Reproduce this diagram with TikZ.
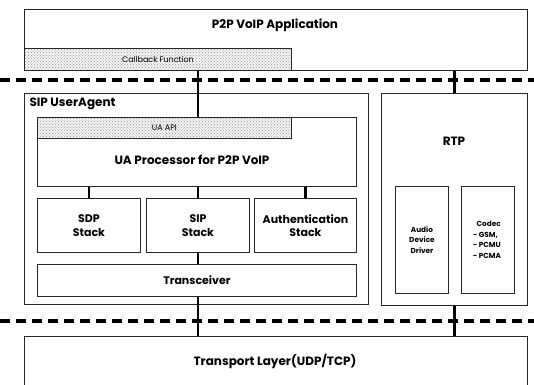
\documentclass[tikz,border=0pt]{standalone}
\usepackage{fontspec}
\setmainfont{Poppins}
\usetikzlibrary{patterns}
\begin{document}
\begin{tikzpicture}[x=1pt,y=-1pt,
  box/.style={draw=black!85, line width=0.9pt, fill=white, inner sep=0pt, anchor=north west},
  dotted box/.style={box, preaction={fill=black!5}, pattern=crosshatch dots, pattern color=black!40},
  link/.style={line width=2.8pt, black},
  layer line/.style={line width=3.6pt, dash pattern=on 10pt off 6pt, black},
  big/.style={font=\fontsize{12}{14}\selectfont\bfseries},
  mid/.style={font=\fontsize{11}{13.5}\selectfont\bfseries, align=center},
  tiny/.style={font=\fontsize{8}{9}\selectfont},
  small/.style={font=\fontsize{7.3}{10.5}\selectfont\bfseries, align=center}]
\useasboundingbox (0,0) rectangle (534,384);

% application layer
\node[box, minimum width=503pt, minimum height=61pt] (app) at (24,9) {};
\node[big] (apptext) at (275,25) {P2P VoIP Application};
\node[dotted box, minimum width=267pt, minimum height=22pt] (callback) at (24,48) {};
\node[tiny] (cbtext) at (callback.center) {Callback Function};

% SIP user agent
\node[box, minimum width=344pt, minimum height=211pt] (ua) at (24,93) {};
\node[big, anchor=west] (uatext) at (26,104) {SIP UserAgent};
\node[box, minimum width=319pt, minimum height=69pt] (uaproc) at (37,117) {};
\node[dotted box, minimum width=254pt, minimum height=21pt] (uaapi) at (37,117) {};
\node[tiny] (apitext) at (uaapi.center) {UA API};
\node[big] (proctext) at (192,160) {UA Processor for P2P VoIP};

\node[box, minimum width=103pt, minimum height=54pt, mid] (sdp) at (37,198) {SDP\\Stack};
\node[box, minimum width=103pt, minimum height=54pt, mid] (sip) at (146,198) {SIP\\Stack};
\node[box, minimum width=102pt, minimum height=54pt, mid] (auth) at (254,198) {Authentication\\Stack};
\node[box, minimum width=319pt, minimum height=32pt, mid] (trx) at (37,264) {Transceiver};

% RTP
\node[box, minimum width=146pt, minimum height=212pt] (rtp) at (381,93) {};
\node[big] (rtptext) at (454,141) {RTP};
\node[box, minimum width=53pt, minimum height=107pt, small] (audio) at (395,186) {Audio\\Device\\Driver};
\node[box, minimum width=53pt, minimum height=107pt] (codec) at (461,186) {};
\node[small, align=left] (codectext) at (487,240) {\hspace*{0.5em}Codec\\- GSM,\\- PCMU\\- PCMA};

% transport layer (open at the bottom)
\node[minimum width=503pt, minimum height=52pt, inner sep=0pt, anchor=north west] (transport) at (24,336) {};
\draw[draw=black!85, line width=0.9pt] (transport.south west) |- (transport.north east) -- (transport.south east);
\node[big] (trtext) at (275,361) {Transport Layer(UDP/TCP)};

% layer separators
\coordinate (s1l) at (0,80);  \coordinate (s1r) at (534,80);
\coordinate (s2l) at (0,321); \coordinate (s2r) at (534,321);
\draw[layer line] (s1l) -- (s1r);
\draw[layer line] (s2l) -- (s2r);

% connectors
\draw[link] (app.south -| sip.north) -- (uaapi.north -| sip.north);
\draw[link] (app.south -| rtp.north) -- (rtp.north);
\draw[link] (uaproc.south -| sdp.north) -- (sdp.north);
\draw[link] (uaproc.south -| sip.north) -- (sip.north);
\draw[link] (uaproc.south -| auth.north) -- (auth.north);
\draw[link] (sip.south) -- (trx.north -| sip.south);
\draw[link] (trx.south -| sip.south) -- (transport.north -| sip.south);
\draw[link] (rtp.south) -- (transport.north -| rtp.south);
\end{tikzpicture}
\end{document}
